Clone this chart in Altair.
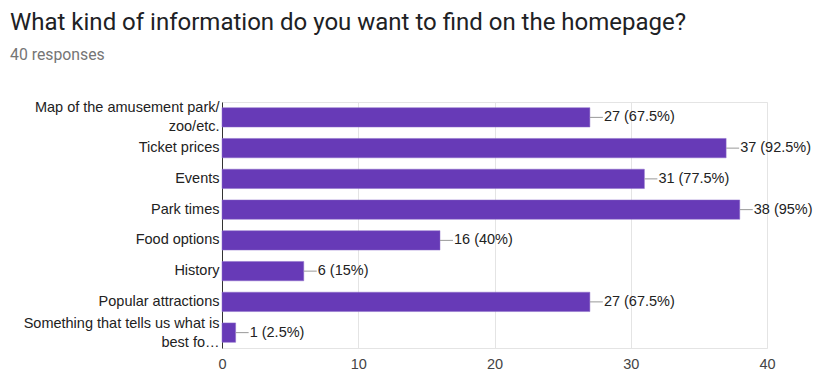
import altair as alt
import pandas as pd

categories = [
    "Map of the amusement park/|zoo/etc.",
    "Ticket prices",
    "Events",
    "Park times",
    "Food options",
    "History",
    "Popular attractions",
    "Something that tells us what is|best fo…",
]
counts = [27, 37, 31, 38, 16, 6, 27, 1]
labels = ["27 (67.5%)", "37 (92.5%)", "31 (77.5%)", "38 (95%)", "16 (40%)", "6 (15%)", "27 (67.5%)", "1 (2.5%)"]
x_ticks = [0, 10, 20, 30, 40]

df = pd.DataFrame({"cat": categories, "count": counts, "label": labels})

FONT = "Liberation Sans"
FS = 14.5

y_enc = alt.Y(
    "cat:N",
    sort=categories,
    title=None,
    scale=alt.Scale(paddingInner=0.37, paddingOuter=0.185),
    axis=alt.Axis(
        labelExpr="split(datum.label, '|')",
        labelFont=FONT,
        labelFontSize=FS,
        labelColor="#222222",
        labelLineHeight=19,
        labelPadding=3,
        labelOffset={"condition": {"test": "indexof(datum.value, '|') >= 0", "value": -9}, "value": 0},
        ticks=False,
        domain=True,
        domainColor="#333333",
        domainWidth=1,
        grid=False,
        labelLimit=300,
    ),
)

x_enc = alt.X(
    "count:Q",
    title=None,
    scale=alt.Scale(domain=[0, 40], nice=False),
    axis=alt.Axis(
        values=x_ticks,
        labelFont=FONT,
        labelFontSize=FS,
        labelColor="#444444",
        labelPadding=9,
        labelFlush=False,
        ticks=False,
        domain=False,
        grid=True,
        gridColor="#e4e4e4",
    ),
)

base = alt.Chart(df)

bars = base.mark_bar(color="#673AB7", stroke="#8c6cc9", strokeWidth=0.5).encode(x=x_enc, y=y_enc)

leaders = base.mark_rule(color="#999999", strokeWidth=1, x2Offset=13).encode(
    x="count:Q", x2="count:Q", y=alt.Y("cat:N", sort=categories)
)

texts = base.mark_text(align="left", baseline="middle", dx=14, font=FONT, fontSize=FS, color="#222222").encode(
    x="count:Q", y=alt.Y("cat:N", sort=categories), text="label:N"
)

chart = (
    alt.layer(bars, leaders, texts)
    .properties(
        width=545,
        height=246,
        autosize=alt.AutoSizeParams(type="none"),
        padding={"left": 222, "top": 102, "right": 47, "bottom": 24},
        title=alt.TitleParams(
            text="What kind of information do you want to find on the homepage?",
            subtitle="40 responses",
            anchor="start",
            frame="group",
            dx=-212,
            offset=37,
            font="Roboto",
            fontSize=24,
            fontWeight="normal",
            color="#202124",
            subtitleFont="Roboto",
            subtitleFontSize=15.8,
            subtitleColor="#757575",
            subtitlePadding=13,
        ),
    )
    .configure_view(stroke="#e4e4e4")
)

chart.save("out.html", embed_options={"renderer": "svg", "actions": False})
